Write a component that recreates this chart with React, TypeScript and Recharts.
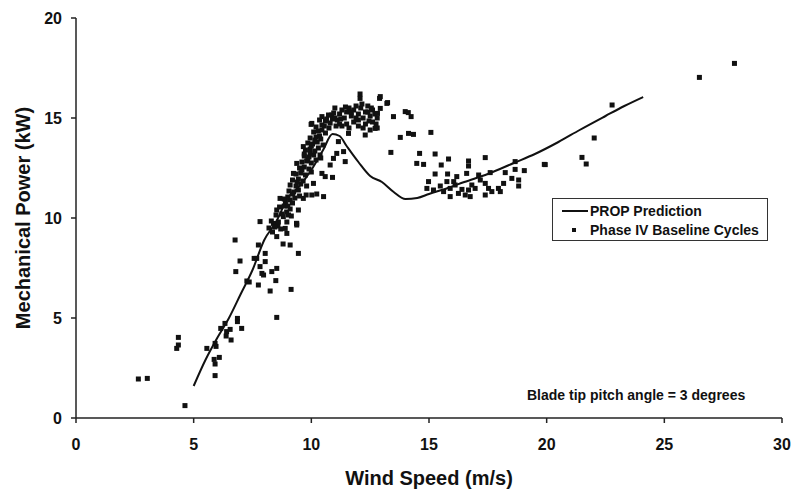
import React from 'react';
import { ComposedChart, Scatter, Line, XAxis, YAxis, Legend } from 'recharts';

// PROP model curve
const propSpeed = [5.0, 5.5, 6.0, 6.5, 7.0, 7.5, 8.0, 8.5, 9.0, 9.5, 10.0, 10.5, 10.9, 11.2, 11.5, 12.0, 12.5, 13.0, 13.5, 14.0, 14.5, 15.0, 15.8, 16.5, 17.5, 18.6, 19.5, 20.5, 21.4, 22.5, 23.3, 24.1];
const propPower = [1.6, 2.9, 4.0, 5.0, 6.2, 7.4, 8.9, 9.8, 11.0, 11.6, 12.4, 13.4, 14.2, 14.1, 13.6, 12.8, 12.1, 11.8, 11.3, 10.95, 11.0, 11.2, 11.5, 11.8, 12.2, 12.75, 13.2, 13.8, 14.4, 15.1, 15.6, 16.05];

// measured baseline cycles: wind speed (m/s)
const cycleSpeed = [
  2.65, 3.03, 4.35, 4.35, 4.28, 4.63, 5.56, 5.91, 5.95, 5.87, 6.09, 5.91, 5.91, 6.15, 6.33, 6.4, 6.55, 6.38, 6.59, 6.86,
  6.86, 7.04, 6.76, 6.97, 6.79, 7.26, 7.36, 7.75, 7.57, 7.75, 7.68, 8.04, 8.04, 7.82, 7.9, 7.97, 8.32, 8.53, 8.49, 8.25,
  9.14, 8.53, 7.82, 8.39, 8.58, 8.89, 8.96, 8.53, 8.8, 9.1, 9.45, 9.37, 8.96,
  9.1, 8.67, 8.53, 8.81, 9.38, 9.03, 9.38, 9.45, 9.66, 10.02, 10.52, 10.09, 9.78, 10.23, 9.1, 9.24, 9.38, 9.66, 9.95, 10.37,
  10.45, 10.59, 10.9, 10.8, 10.94, 11.08, 11.37, 11.44, 11.15, 11.58, 9.99, 10.45, 10.02, 10.45, 10.73, 10.87, 12.29, 12.71,
  12.5, 12.8,
  8.2, 8.45, 8.7, 8.3, 8.6, 8.75, 8.5, 8.95, 8.65, 8.85, 9.1, 8.9, 9.2, 9.0, 9.3, 9.5, 9.05, 9.25, 9.45, 9.35, 9.55, 9.8,
  9.2, 9.45, 9.65, 9.35, 9.55, 9.75, 10.0, 9.5, 9.7, 9.9, 9.6, 9.8, 10.0, 10.2, 9.7, 9.9, 10.1, 10.4, 9.75, 9.95, 10.15,
  10.3, 9.85, 10.05, 10.25, 10.5, 9.95, 10.2, 10.4, 10.1, 10.3, 10.6, 10.2, 10.55, 10.75, 10.35, 10.6, 10.9, 10.95, 11.05,
  9.0, 9.2, 9.4, 9.6, 9.85, 10.0, 10.35, 10.45, 10.8, 9.15, 8.35, 8.85, 9.7, 10.15, 10.65,
  11.1, 11.2, 11.3, 11.4, 11.5, 11.5, 11.6, 11.7, 11.8, 11.8, 11.9, 12.0, 12.0, 12.1, 12.2, 12.3, 12.3, 12.4, 12.5, 12.6,
  12.6, 12.7, 11.3, 11.0, 11.6, 12.2, 12.8, 11.9, 12.4, 11.2,
  11.0, 11.25, 11.45, 12.15, 12.45, 12.0, 11.7, 12.55, 12.75,
  12.07, 12.07, 12.9, 13.24, 12.93, 12.81, 13.49, 13.99, 14.12, 14.24, 13.21, 12.93,
  13.78, 14.13, 14.34, 15.08, 13.38, 14.6, 15.26, 14.48, 14.77, 15.52, 15.83,
  16.68, 16.68, 17.39, 18.66, 18.66, 19.05, 19.9, 18.24, 15.26, 15.79, 16.18, 16.6, 14.98, 14.91, 15.19, 15.48, 15.62, 15.9,
  15.9, 16.11, 16.25, 16.4, 16.54, 16.68, 16.82, 16.96, 16.75, 17.18, 17.39, 17.53, 17.39, 17.67, 17.95, 18.03, 18.17, 18.52,
  18.81, 18.81, 17.11, 17.6, 15.76, 16.05,
  26.49, 27.98, 22.78, 22.02, 21.5, 21.68, 19.94,
];

// measured baseline cycles: mechanical power (kW)
const cyclePower = [
  1.95, 1.98, 4.03, 3.65, 3.48, 0.62, 3.48, 3.73, 3.58, 2.93, 3.03, 2.7, 2.12, 4.48, 4.73, 4.32, 4.43, 4.1, 3.9, 4.98,
  4.82, 4.48, 8.9, 7.85, 7.32, 6.85, 6.8, 6.65, 7.98, 8.65, 7.98, 8.23, 7.82, 7.57, 7.23, 7.15, 7.32, 7.48, 6.87, 6.35,
  6.43, 5.03, 9.82, 9.73, 9.6, 9.48, 9.23, 9.07, 8.7, 8.65, 8.23, 9.73, 9.8,
  10.9, 10.98, 10.4, 10.07, 9.73, 10.15, 9.65, 10.4, 10.98, 11.15, 11.07, 11.73, 11.15, 11.2, 11.65, 12.23, 12.73, 13.57, 13.23, 13.15,
  12.23, 12.07, 12.03, 12.65, 12.98, 13.23, 13.32, 12.82, 13.82, 14.23, 14.68, 14.65, 14.73, 15.07, 15.15, 15.15, 14.15, 14.48,
  14.4, 14.5,
  9.5, 9.55, 9.45, 9.85, 9.8, 10.2, 10.15, 10.3, 10.55, 10.6, 10.45, 10.8, 10.75, 11.05, 11.0, 11.1, 11.35, 11.3, 11.4, 11.6, 11.7, 11.6,
  11.9, 11.95, 11.85, 12.2, 12.25, 12.15, 12.3, 12.5, 12.55, 12.45, 12.8, 12.85, 12.75, 12.9, 13.1, 13.05, 13.15, 13.0, 13.4, 13.45, 13.35,
  13.5, 13.75, 13.7, 13.8, 13.65, 14.0, 14.05, 13.95, 14.3, 14.35, 14.25, 14.55, 14.6, 14.5, 14.9, 14.85, 14.95, 15.25, 14.6,
  10.6, 11.2, 11.8, 12.4, 12.95, 13.6, 14.1, 14.4, 14.75, 10.1, 9.3, 10.95, 13.2, 13.9, 14.95,
  14.9, 15.2, 15.4, 15.0, 15.3, 14.7, 15.5, 15.1, 14.8, 15.4, 15.6, 15.2, 14.9, 15.5, 15.0, 15.3, 14.7, 15.6, 15.1, 15.4,
  14.8, 15.2, 14.6, 15.5, 14.5, 14.5, 15.0, 15.0, 15.3, 14.7,
  15.0, 14.95, 15.55, 15.7, 14.85, 14.6, 15.3, 15.5, 14.7,
  16.2, 15.98, 15.98, 15.77, 15.48, 15.23, 15.07, 15.32, 15.27, 15.07, 15.73, 16.07,
  14.03, 14.23, 14.18, 14.28, 13.28, 13.23, 13.2, 12.73, 12.68, 12.65, 12.95,
  12.85, 12.6, 13.02, 12.82, 12.43, 12.37, 12.68, 12.27, 12.2, 12.2, 12.07, 12.23, 11.82, 11.48, 11.4, 11.6, 11.32, 11.07,
  11.48, 11.65, 11.23, 11.43, 11.15, 11.4, 11.65, 11.48, 11.07, 11.9, 11.73, 11.48, 11.15, 11.32, 11.48, 11.32, 11.73, 11.98,
  11.9, 11.6, 12.15, 12.27, 11.82, 11.82,
  17.03, 17.73, 15.65, 14.0, 13.03, 12.7, 12.67,
];

const speedTicks = [0, 5, 10, 15, 20, 25, 30];
const powerTicks = [0, 5, 10, 15, 20];

const propData = propSpeed.map((speed, i) => ({ speed, power: propPower[i] }));
const cycleData = cycleSpeed.map((speed, i) => ({ speed, power: cyclePower[i] }));

const FONT = '"Liberation Sans", Arial, Helvetica, sans-serif';
const INK = '#111';

const SquareDot = (props: any) => {
  const { cx, cy } = props;
  if (cx == null || cy == null) return null;
  return <rect x={cx - 2.5} y={cy - 2.5} width={5} height={5} fill={INK} />;
};

const LegendBox = (props: any) => {
  const items = [...(props.payload || [])].sort((a: any, b: any) => (a.type === 'line' ? -1 : 0) - (b.type === 'line' ? -1 : 0));
  return (
    <div
      style={{
        border: '1px solid #333',
        background: '#fff',
        boxSizing: 'border-box',
        width: 216,
        height: 43,
        padding: '2px 0 0 9px',
        fontFamily: FONT,
        fontWeight: 'bold',
        fontSize: 14,
        color: INK,
      }}
    >
      {items.map((entry: any) => (
        <div key={entry.value} style={{ display: 'flex', alignItems: 'center', height: 19 }}>
          <svg width={27} height={10} style={{ marginRight: 1 }}>
            {entry.type === 'line' ? (
              <line x1={0} y1={5} x2={26} y2={5} stroke={INK} strokeWidth={2} />
            ) : (
              <rect x={10} y={3} width={4} height={4} fill={INK} />
            )}
          </svg>
          <span>{entry.value}</span>
        </div>
      ))}
    </div>
  );
};

const tickStyle = { fontFamily: FONT, fontWeight: 'bold', fontSize: 16, fill: INK };

export default function App() {
  return (
    <div style={{ position: 'relative', width: 794, height: 491, background: '#fff' }}>
      {/* chart fills the whole window, so drop the default body margin */}
      <style>{'body { margin: 0; }'}</style>
      <ComposedChart width={794} height={491} margin={{ top: 18, right: 12, bottom: 0, left: 0 }}>
        <XAxis
          type="number"
          dataKey="speed"
          domain={[0, 30]}
          ticks={speedTicks}
          tickSize={5}
          tickMargin={16}
          height={73}
          stroke="#222"
          strokeWidth={1.5}
          tick={tickStyle}
          label={{
            value: 'Wind Speed (m/s)',
            position: 'insideBottom',
            offset: 6,
            style: { fontFamily: FONT, fontWeight: 'bold', fontSize: 20, fill: INK },
          }}
        />
        <YAxis
          type="number"
          dataKey="power"
          domain={[0, 20]}
          ticks={powerTicks}
          tickSize={5}
          tickMargin={9}
          width={76}
          stroke="#222"
          strokeWidth={1.5}
          tick={tickStyle}
          label={{
            value: 'Mechanical Power (kW)',
            angle: -90,
            position: 'insideLeft',
            offset: 23,
            textAnchor: 'middle',
            style: { textAnchor: 'middle', fontFamily: FONT, fontWeight: 'bold', fontSize: 20, fill: INK },
          }}
        />
        <Scatter
          name="Phase IV Baseline Cycles"
          data={cycleData}
          fill={INK}
          shape={SquareDot}
          isAnimationActive={false}
        />
        <Line
          name="PROP Prediction"
          data={propData}
          dataKey="power"
          type="monotone"
          stroke={INK}
          strokeWidth={2}
          dot={false}
          activeDot={false}
          legendType="line"
          isAnimationActive={false}
        />
        <Legend
          layout="horizontal"
          verticalAlign="middle"
          align="center"
          content={LegendBox}
          wrapperStyle={{ left: 552, top: 198, width: 216, height: 43 }}
        />
      </ComposedChart>
      <div
        style={{
          position: 'absolute',
          left: 527,
          top: 387,
          fontFamily: FONT,
          fontWeight: 'bold',
          fontSize: 14,
          lineHeight: '16px',
          color: INK,
          whiteSpace: 'nowrap',
        }}
      >
        Blade tip pitch angle = 3 degrees
      </div>
    </div>
  );
}
